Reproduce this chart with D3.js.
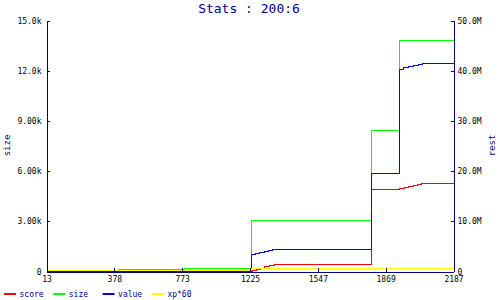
<!DOCTYPE html>
<html>
<head>
<meta charset="utf-8">
<script src="https://cdn.jsdelivr.net/npm/d3@7"></script>
<style>
  body { margin: 0; background: #fff; }
  text { font-family: "DejaVu Sans Mono", monospace; }
</style>
</head>
<body>
<div id="viz"></div>
<script>
// x axis labels (sample positions, not evenly spaced in value)
const xTicks = [13, 378, 773, 1225, 1547, 1869, 2187];

const leftTicks = [0, 3000, 6000, 9000, 12000, 15000];
const leftTickLabels = ["0", "3.00k", "6.00k", "9.00k", "12.0k", "15.0k"];
const rightTicks = [0, 10e6, 20e6, 30e6, 40e6, 50e6];
const rightTickLabels = ["0", "10.0M", "20.0M", "30.0M", "40.0M", "50.0M"];

// series (step values)
const scoreX = [13, 1230, 1237, 1256, 1275, 1294, 1318, 1341, 1803, 1935, 1957, 1977, 1998, 2017, 2036, 2187];
const scoreVal = [0, 0.06e6, 0.26e6, 0.46e6, 0.66e6, 0.94e6, 1.2e6, 1.33e6, 16.3e6, 16.5e6, 16.7e6, 16.9e6, 17.1e6, 17.3e6, 17.5e6, 17.5e6];

const sizeX = [13, 402, 788, 1230, 1803, 1935, 2187];
const sizeVal = [30, 100, 160, 3030, 8430, 13790, 13790];

const valueX = [13, 1230, 1251, 1270, 1294, 1313, 1332, 1803, 1935, 1954, 1977, 2001, 2022, 2040, 2187];
const valueVal = [0, 3.39e6, 3.59e6, 3.78e6, 3.98e6, 4.18e6, 4.32e6, 19.46e6, 40.3e6, 40.6e6, 40.8e6, 41.0e6, 41.2e6, 41.4e6, 41.4e6];

const xpX = [13, 1230, 2187];
const xpVal = [0.14e6, 0.54e6, 0.54e6];

const seriesNames = ["score", "size", "value", "xp*60"];
const seriesColors = ["#ff0000", "#00ff00", "#0000ff", "#ffff00"];

const width = 500, height = 300;
const plotLeft = 46, plotRight = 453, plotTop = 20, plotBottom = 271;
const axisColor = "#000080";

const svg = d3.select("#viz").append("svg")
    .attr("width", width)
    .attr("height", height);

// piecewise scale: ticks are evenly spaced
const x = d3.scaleLinear()
    .domain(xTicks)
    .range(xTicks.map((d, i) => plotLeft + i * (plotRight - plotLeft) / (xTicks.length - 1)));
const yL = d3.scaleLinear().domain([0, 15000]).range([plotBottom, plotTop]);
const yR = d3.scaleLinear().domain([0, 50e6]).range([plotBottom, plotTop]);

svg.append("text")
    .attr("x", 249)
    .attr("y", 13)
    .attr("text-anchor", "middle")
    .attr("font-size", "13px")
    .attr("fill", axisColor)
    .text("Stats : 200:6");

const g = svg.append("g").attr("transform", "translate(0.5,0.5)");

const makeLine = (xs, vs, yScale) => d3.line()
    .x(d => x(xs[d]))
    .y(d => yScale(vs[d]))
    .curve(d3.curveStepAfter)(d3.range(xs.length));

const series = [
    { xs: sizeX, vs: sizeVal, y: yL, c: seriesColors[1] },
    { xs: scoreX, vs: scoreVal, y: yR, c: seriesColors[0] },
    { xs: valueX, vs: valueVal, y: yR, c: seriesColors[2] },
    { xs: xpX, vs: xpVal, y: yR, c: seriesColors[3] }
];
series.forEach(s => {
    g.append("path")
        .attr("d", makeLine(s.xs, s.vs, s.y))
        .attr("fill", "none")
        .attr("stroke", s.c)
        .attr("stroke-width", 1)
        .attr("shape-rendering", "crispEdges");
});

const styleAxis = sel => {
    sel.selectAll("path, line").attr("stroke", axisColor).attr("shape-rendering", "crispEdges");
    sel.selectAll("text").attr("fill", "#000").attr("font-size", "8px")
        .attr("font-family", "DejaVu Sans Mono, monospace");
};

g.append("g")
    .attr("transform", `translate(${plotLeft},0)`)
    .call(d3.axisLeft(yL).tickValues(leftTicks)
        .tickFormat((d, i) => leftTickLabels[i])
        .tickSizeInner(-3).tickSizeOuter(0).tickPadding(5))
    .call(styleAxis);

g.append("g")
    .attr("transform", `translate(${plotRight},0)`)
    .call(d3.axisRight(yR).tickValues(rightTicks)
        .tickFormat((d, i) => rightTickLabels[i])
        .tickSizeInner(-3).tickSizeOuter(0).tickPadding(4))
    .call(styleAxis);

g.append("g")
    .attr("transform", `translate(0,${plotBottom})`)
    .call(d3.axisBottom(x).tickValues(xTicks)
        .tickFormat(d => d)
        .tickSizeInner(-4).tickSizeOuter(0).tickPadding(5))
    .call(styleAxis);

// axis titles
svg.append("text")
    .attr("transform", `translate(10,${(plotTop + plotBottom) / 2}) rotate(-90)`)
    .attr("text-anchor", "middle")
    .attr("font-size", "9px")
    .attr("fill", axisColor)
    .text("size");

svg.append("text")
    .attr("transform", `translate(495,${(plotTop + plotBottom) / 2}) rotate(-90)`)
    .attr("text-anchor", "middle")
    .attr("font-size", "9px")
    .attr("fill", axisColor)
    .text("rest");

// legend
const legend = svg.append("g").attr("transform", "translate(4,294)");
seriesNames.forEach((name, i) => {
    const item = legend.append("g").attr("transform", `translate(${i * 49.3},0)`);
    item.append("rect")
        .attr("x", 0).attr("y", -1)
        .attr("width", 12).attr("height", 2)
        .attr("fill", seriesColors[i]);
    item.append("text")
        .attr("x", 15.5).attr("y", 3)
        .attr("font-size", "8px")
        .attr("fill", axisColor)
        .text(name);
});
</script>
</body>
</html>
